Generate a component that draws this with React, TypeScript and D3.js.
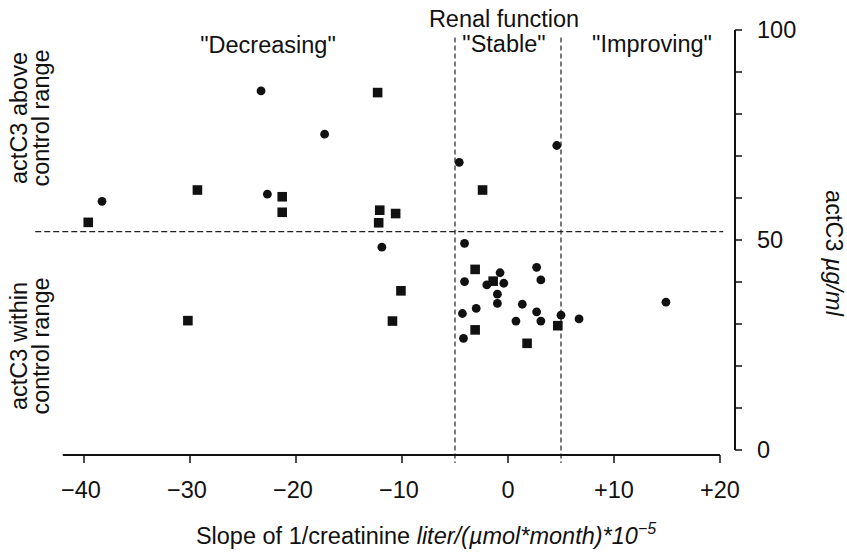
import * as d3 from "d3";

const W = 847;
const H = 553;
const FONT = "'Liberation Sans', Arial, Helvetica, sans-serif";
const FS = 23.5;

// slope of 1/creatinine (x) vs actC3 µg/ml (y)
const circleX = [
  -23.3, -17.3, -22.7, -38.3, -11.9, -4.6, 4.6, -4.1, -0.75, 2.7, -4.1, -2.0, -0.4,
  3.1, -1.0, -1.0, 1.35, -3.0, -4.3, 2.7, 5.0, 0.75, 3.1, 6.7, -4.2, 14.9,
];
const circleY = [
  85.5, 75.2, 60.9, 59.2, 48.3, 68.5, 72.5, 49.2, 42.2, 43.5, 40.1, 39.3, 39.7,
  40.5, 37.1, 34.9, 34.7, 33.7, 32.5, 32.9, 32.1, 30.7, 30.7, 31.2, 26.6, 35.2,
];
const squareX = [
  -12.3, -29.3, -21.3, -21.3, -39.6, -12.1, -10.6, -12.2, -10.1, -10.9, -30.2,
  -2.4, -3.1, -1.4, 4.7, -3.1, 1.8,
];
const squareY = [
  85.1, 61.9, 60.3, 56.6, 54.2, 57.1, 56.3, 54.1, 37.9, 30.7, 30.8, 61.9, 43.0,
  40.2, 29.6, 28.6, 25.4,
];

const xTicks = [-40, -30, -20, -10, 0, 10, 20];
const yTicks = [0, 10, 20, 30, 40, 50, 60, 70, 80, 90, 100];
const yLabels = [0, 50, 100];
const stableBounds = [-5, 5];
const controlLimit = 52;

const fmtX = (v: number) => (v > 0 ? `+${v}` : v < 0 ? `\u2212${-v}` : "0");

export default function App() {
  const x = d3.scaleLinear().domain([0, 10]).range([508, 614]);
  const y = d3.scaleLinear().domain([0, 100]).range([450, 30]);

  const axisY = 455;
  const yAxisX = 735;

  const circle = d3.symbol(d3.symbolCircle, Math.PI * 4.4 * 4.4)();
  const square = d3.symbol(d3.symbolSquare, 9.6 * 9.6)();

  return (
    <svg
      width={W}
      height={H}
      style={{ position: "absolute", left: 0, top: 0, background: "#fff" }}
      fontFamily={FONT}
    >
      {/* dashed region lines */}
      <line
        x1={x(-44.6)}
        x2={x(20.3)}
        y1={y(controlLimit)}
        y2={y(controlLimit)}
        stroke="#222"
        strokeWidth={1.2}
        strokeDasharray="6 3"
      />
      {stableBounds.map((b) => (
        <line
          key={b}
          x1={x(b)}
          x2={x(b)}
          y1={y(98.2)}
          y2={axisY + 8}
          stroke="#222"
          strokeWidth={1.2}
          strokeDasharray="5 3"
        />
      ))}

      {/* x axis */}
      <line x1={x(-42)} x2={x(20)} y1={axisY} y2={axisY} stroke="#111" strokeWidth={2} />
      {xTicks.map((t) => (
        <g key={t}>
          <line x1={x(t)} x2={x(t)} y1={axisY} y2={axisY + 8} stroke="#111" strokeWidth={1.5} />
          <text x={x(t) - (t < 0 ? 3 : 0)} y={498} textAnchor="middle" fontSize={FS} fill="#111">
            {fmtX(t)}
          </text>
        </g>
      ))}
      <text x={426} y={544} textAnchor="middle" fontSize={FS} fill="#111">
        Slope of 1/creatinine{" "}
        <tspan fontStyle="italic">liter/(µmol*month)*10</tspan>
        <tspan fontStyle="italic" fontSize={16} dy={-10}>
          {"\u22125"}
        </tspan>
      </text>

      {/* y axis (right) */}
      <line x1={yAxisX} x2={yAxisX} y1={y(0)} y2={y(100)} stroke="#111" strokeWidth={2} />
      {yTicks.map((t) => (
        <line key={t} x1={yAxisX} x2={yAxisX + 7} y1={y(t)} y2={y(t)} stroke="#111" strokeWidth={1.5} />
      ))}
      {yLabels.map((t) => (
        <text key={t} x={757} y={y(t)} dy="0.36em" fontSize={FS} fill="#111">
          {t}
        </text>
      ))}
      <text
        transform={`translate(826, 253) rotate(90)`}
        textAnchor="middle"
        fontSize={FS}
        fill="#111"
      >
        actC3 <tspan fontStyle="italic">µg/ml</tspan>
      </text>

      {/* left side labels */}
      <text transform="translate(0, 118) rotate(-90)" textAnchor="middle" fontSize={FS} fill="#111">
        <tspan x={0} y={27}>actC3 above</tspan>
        <tspan x={0} y={49}>control range</tspan>
      </text>
      <text transform="translate(0, 346) rotate(-90)" textAnchor="middle" fontSize={FS} fill="#111">
        <tspan x={0} y={27}>actC3 within</tspan>
        <tspan x={0} y={49}>control range</tspan>
      </text>

      {/* region headers */}
      <text x={504} y={27} textAnchor="middle" fontSize={FS} fill="#111">
        Renal function
      </text>
      <text x={268} y={53} textAnchor="middle" fontSize={FS} fill="#111">
        "Decreasing"
      </text>
      <text x={504} y={52} textAnchor="middle" fontSize={FS} fill="#111">
        "Stable"
      </text>
      <text x={652} y={52} textAnchor="middle" fontSize={FS} fill="#111">
        "Improving"
      </text>

      {/* points */}
      {circleX.map((v, i) => (
        <path key={`c${i}`} d={circle ?? undefined} transform={`translate(${x(v)},${y(circleY[i])})`} fill="#111" />
      ))}
      {squareX.map((v, i) => (
        <path key={`s${i}`} d={square ?? undefined} transform={`translate(${x(v)},${y(squareY[i])})`} fill="#111" />
      ))}
    </svg>
  );
}
